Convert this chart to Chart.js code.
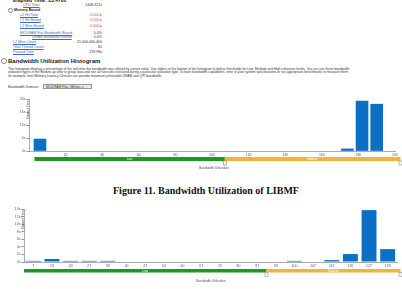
<!DOCTYPE html>
<html>
<head>
<meta charset="utf-8">
<script src="https://cdn.jsdelivr.net/npm/chart.js@4.4.1/dist/chart.umd.min.js"></script>
<style>
  html, body { margin: 0; padding: 0; background: #fff; }
  body { width: 402px; height: 289px; overflow: hidden; position: relative;
         font-family: "Liberation Sans", Arial, sans-serif; color: #333; }
  .t { position: absolute; white-space: nowrap; font-size: 3.6px; line-height: 4px; }
  .b { font-weight: bold; color: #222; }
  .lnk { color: #3b6cc2; text-decoration: underline; }
  .v { position: absolute; white-space: nowrap; font-size: 3.6px; line-height: 4px; right: 300px; }
  .red { color: #e0552a; }
  .ico { display: inline-block; width: 3px; height: 3px; border: 0.5px solid #888; border-radius: 50%;
         margin-right: 1px; vertical-align: middle; }
  .desc { position: absolute; left: 8px; white-space: nowrap; font-size: 3.3px; line-height: 3.6px; color: #333; }
  .sel { position: absolute; left: 43px; top: 84px; width: 49px; height: 5px; border: 0.6px solid #999;
         background: #e8e8e8; font-size: 3.4px; line-height: 5px; padding-left: 2px; box-sizing: border-box; }
  canvas { position: absolute; left: 0; }
  #cap { position: absolute; left: 0; width: 412px; top: 185px; text-align: center;
         font-family: "Liberation Serif", serif; font-weight: bold; font-size: 10px; color: #111; }
</style>
</head>
<body>
<!-- summary tree (top, partly cut) -->
<div class="t b" style="left:13px;top:-2.5px;font-size:5px">Elapsed Time: 23.470s</div>
<div class="t lnk" style="left:23px;top:3px">CPU Time</div><div class="v" style="top:3px">1408.312s</div>
<div class="t b" style="left:8px;top:8px"><span class="ico"></span>Memory Bound</div>
<div class="t lnk" style="left:20px;top:13px">L2 Hit Rate</div><div class="v red" style="top:13px">0.000 ▸</div>
<div class="t lnk" style="left:20px;top:18px">L2 Hit Bound</div><div class="v red" style="top:18px">0.000 ▸</div>
<div class="t lnk" style="left:20px;top:23.5px">L2 Miss Bound</div><div class="v red" style="top:23.5px">0.000 ▸</div>
<div class="t lnk" style="left:20px;top:30.5px">MCDRAM Flat Bandwidth Bound</div><div class="v" style="top:30.5px">0.0%</div>
<div class="t lnk" style="left:32px;top:35px">DRAM Bandwidth Bound</div><div class="v" style="top:35px">0.0%</div>
<div class="t lnk" style="left:13px;top:40px">L2 Miss Count</div><div class="v" style="top:40px">21,000,406,400</div>
<div class="t lnk" style="left:13px;top:45px">Total Thread Count</div><div class="v" style="top:45px">65</div>
<div class="t lnk" style="left:13px;top:50px">Paused Time</div><div class="v" style="top:50px">199.98s</div>

<div class="t b" style="left:1px;top:58px;font-size:6px;line-height:6px"><span class="ico" style="width:4px;height:4px"></span>Bandwidth Utilization Histogram</div>
<div class="desc" style="top:67.5px">This histogram displays a percentage of the wall time the bandwidth was utilized by certain value. Use sliders at the bottom of the histogram to define thresholds for Low, Medium and High utilization levels. You can use these bandwidth</div>
<div class="desc" style="top:71px">utilization types in the Bottom-up view to group data and see all functions executed during a particular utilization type. To learn bandwidth capabilities, refer to your system specifications or run appropriate benchmarks to measure them;</div>
<div class="desc" style="top:74.5px">for example, Intel Memory Latency Checker can provide maximum achievable DRAM and QPI bandwidth.</div>
<div class="t" style="left:8px;top:85px">Bandwidth Domain:</div>
<div class="sel">MCDRAM Flat, GB/sec ▾</div>

<canvas id="h1" width="402" height="80" style="top:92px"></canvas>
<div id="cap">Figure 11. Bandwidth Utilization of LIBMF</div>
<canvas id="h2" width="402" height="89" style="top:200px"></canvas>

<script>
// histogram 1 — GB/sec on a linear axis, elapsed seconds per bin
const BW1_BINS = [6, 174, 182, 190];
const BW1_TIME = [4.6, 0.8, 19.2, 18.0];
const BW1_LOW_RANGE = [3, 107];   // green "Low" band, GB/sec
const BW1_MAX = 20;

// histogram 2 — binned categories
const BW2_LABELS = ['7', '13', '20', '27', '33', '40', '47', '53', '60', '67',
                    '73', '80', '87', '93', '100', '107', '113', '120', '127', '133'];
const BW2_TIME = [0.3, 0.8, 0.3, 0.3, 0.3, 0, 0, 0, 0, 0,
                  0, 0, 0, 0, 0.3, 0, 0.5, 2.1, 13.7, 3.4];
const BW2_LOW_RANGE = [-0.5, 12.5];
const BW2_MAX = 14;

const BAR = '#0b6fc4';
const AXIS = '#8a97a6';
const TXT = '#555';
const SMALL = { size: 3.5, family: 'Liberation Sans' };

// slider strip under the axis + rotated y title + axis caption
const stripPlugin = {
  id: 'strip',
  afterDraw(chart, args, o) {
    const ctx = chart.ctx, x = chart.scales.x, a = chart.chartArea;
    const xs = x.getPixelForValue(o.low[0]);
    const xt = x.getPixelForValue(o.low[1]);
    const xe = chart.width - 1.5;
    ctx.save();
    ctx.fillStyle = '#1f9a1f';
    ctx.fillRect(xs, o.top, xt - xs, o.h);
    ctx.fillStyle = '#f2b338';
    ctx.fillRect(xt, o.top, xe - xt, o.h);
    ctx.font = '3px "Liberation Sans"';
    ctx.fillStyle = '#fff';
    ctx.textAlign = 'center';
    ctx.textBaseline = 'middle';
    ctx.fillText('Low', (xs + xt) / 2, o.top + o.h / 2);
    ctx.fillText('Medium', (xt + xe) / 2, o.top + o.h / 2);
    for (const hx of [xt, xe]) {
      ctx.fillStyle = '#fff';
      ctx.strokeStyle = '#8a8a8a';
      ctx.lineWidth = 0.6;
      ctx.fillRect(hx - 1.5, o.top + o.h, 3, 4);
      ctx.strokeRect(hx - 1.5, o.top + o.h, 3, 4);
    }
    ctx.fillStyle = TXT;
    ctx.font = '3.2px "Liberation Sans"';
    ctx.fillText('Bandwidth Utilization', o.capX, o.capY);
    // y title sits just at the axis
    ctx.translate(a.left - 1, a.top + 1);
    ctx.rotate(-Math.PI / 2);
    ctx.textAlign = 'right';
    ctx.fillText('Elapsed Time', 0, 0);
    ctx.restore();
  }
};

function baseOptions(yMax, yStep, yWidth, padTop, padRight, strip) {
  return {
    responsive: false,
    animation: false,
    layout: { padding: { top: padTop, right: padRight, left: 0, bottom: 0 } },
    plugins: { legend: { display: false }, tooltip: { enabled: false }, strip },
    scales: {
      y: {
        min: 0, max: yMax,
        afterFit: s => { s.width = yWidth; },
        border: { color: AXIS, width: 0.8 },
        grid: { drawOnChartArea: false, tickLength: 2.5, color: AXIS },
        ticks: { stepSize: yStep, font: SMALL, color: TXT, padding: 1, callback: v => v + 's' },
      },
    },
  };
}

// --- chart 1
const opt1 = baseOptions(BW1_MAX, 5, 29, 7, 7,
  { low: BW1_LOW_RANGE, top: 65, h: 4, capX: 214, capY: 76.5 });
opt1.scales.x = {
  type: 'linear', min: 0, max: 200, offset: false,
  afterFit: s => { s.height = 21; s.paddingLeft = 0; s.paddingRight = 0; },
  border: { color: AXIS, width: 0.8 },
  grid: { drawOnChartArea: false, tickLength: 1, color: AXIS, offset: false },
  ticks: { stepSize: 20, font: SMALL, color: TXT, padding: 0.5, maxRotation: 0,
           callback: v => (v === 0 ? '' : v) },
};
new Chart(document.getElementById('h1'), {
  type: 'bar',
  data: {
    datasets: [{
      data: BW1_BINS.map((b, i) => ({ x: b, y: BW1_TIME[i] })),
      backgroundColor: BAR,
      barThickness: 12,
    }],
  },
  options: opt1,
  plugins: [stripPlugin],
});

// --- chart 2
const opt2 = baseOptions(BW2_MAX, 2, 24, 9, 5,
  { low: BW2_LOW_RANGE, top: 69, h: 3.5, capX: 211, capY: 81 });
opt2.scales.x = {
  type: 'category',
  afterFit: s => { s.height = 27; },
  border: { color: AXIS, width: 0.8 },
  grid: { drawOnChartArea: false, tickLength: 1, color: AXIS, offset: false },
  ticks: { font: SMALL, color: TXT, padding: 1, autoSkip: false, maxRotation: 0 },
};
new Chart(document.getElementById('h2'), {
  type: 'bar',
  data: {
    labels: BW2_LABELS,
    datasets: [{
      data: BW2_TIME,
      backgroundColor: BAR,
      categoryPercentage: 1,
      barPercentage: 0.8,
    }],
  },
  options: opt2,
  plugins: [stripPlugin],
});
</script>
</body>
</html>
